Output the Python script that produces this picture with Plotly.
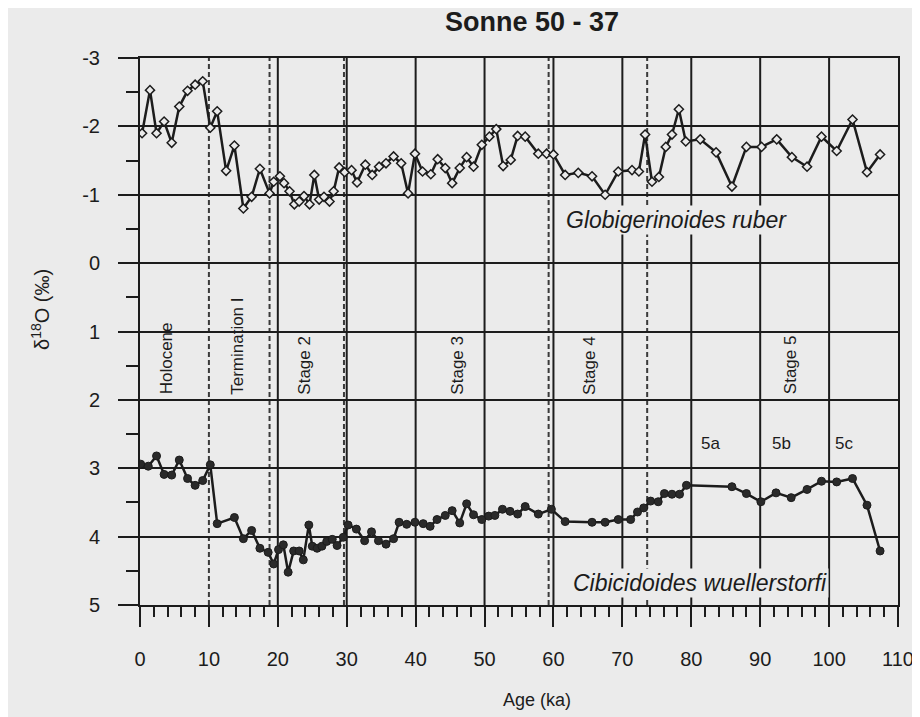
import plotly.graph_objects as go

# ---- data ----
ruber_age = [0.3, 1.45, 2.4, 3.5, 4.6, 5.7, 6.9, 8.0, 9.1, 10.2, 11.2, 12.5, 13.7, 15.0, 16.2,
             17.4, 18.8, 19.4, 20.3, 20.9, 21.7, 22.4, 23.1, 23.8, 24.6, 25.3, 26.0, 26.7, 27.5,
             28.1, 28.9, 29.7, 30.7, 31.5, 32.7, 33.7, 34.7, 35.7, 36.8, 37.9, 38.9, 39.9, 41.0,
             42.2, 43.2, 44.3, 45.3, 46.4, 47.4, 48.4, 49.6, 50.7, 51.7, 52.7, 53.8, 54.8, 55.9,
             57.8, 59.0, 60.0, 61.7, 63.6, 65.6, 67.5, 69.4, 71.4, 72.4, 73.3, 74.3, 75.3, 76.3,
             77.2, 78.2, 79.2, 81.3, 83.6, 85.9, 88.0, 90.2, 92.4, 94.6, 96.8, 98.9, 101.1, 103.4,
             105.5, 107.4]
ruber_d18o = [-1.90, -2.53, -1.90, -2.07, -1.76, -2.29, -2.52, -2.61, -2.66, -1.98, -2.22, -1.35,
              -1.72, -0.80, -0.97, -1.38, -1.02, -1.19, -1.27, -1.17, -1.05, -0.86, -0.90, -0.98,
              -0.86, -1.29, -0.93, -0.97, -0.90, -1.05, -1.40, -1.33, -1.36, -1.18, -1.44, -1.29,
              -1.41, -1.46, -1.56, -1.46, -1.02, -1.60, -1.34, -1.30, -1.52, -1.39, -1.17, -1.39,
              -1.55, -1.41, -1.73, -1.85, -1.96, -1.42, -1.51, -1.86, -1.85, -1.60, -1.60, -1.59,
              -1.29, -1.32, -1.27, -1.00, -1.34, -1.36, -1.34, -1.88, -1.19, -1.26, -1.70, -1.88,
              -2.25, -1.78, -1.81, -1.62, -1.12, -1.70, -1.70, -1.81, -1.55, -1.41, -1.85, -1.64,
              -2.10, -1.33, -1.59]

wuell_age = [0.1, 1.2, 2.4, 3.5, 4.6, 5.7, 6.9, 8.0, 9.1, 10.2, 11.2, 13.7, 15.0, 16.2, 17.4,
             18.6, 19.4, 20.1, 20.8, 21.5, 22.3, 23.1, 23.7, 24.5, 25.0, 25.7, 26.4, 27.1, 27.9,
             28.6, 29.5, 30.2, 31.4, 32.6, 33.6, 34.6, 35.7, 36.8, 37.6, 38.7, 39.9, 41.1, 42.1,
             43.1, 44.3, 45.3, 46.4, 47.4, 48.4, 49.6, 50.6, 51.5, 52.6, 53.7, 54.8, 55.9, 57.8,
             59.7, 61.7, 65.6, 67.5, 69.4, 71.2, 72.2, 73.1, 74.1, 75.2, 76.1, 77.2, 78.3, 79.3,
             85.9, 88.0, 90.1, 92.3, 94.5, 96.8, 98.9, 101.1, 103.4, 105.5, 107.4]
wuell_d18o = [2.94, 2.97, 2.82, 3.09, 3.10, 2.88, 3.15, 3.25, 3.18, 2.95, 3.81, 3.72, 4.03, 3.91,
              4.17, 4.23, 4.40, 4.19, 4.12, 4.52, 4.21, 4.21, 4.34, 3.83, 4.14, 4.17, 4.14, 4.07,
              4.04, 4.13, 4.01, 3.83, 3.89, 4.06, 3.93, 4.06, 4.11, 4.03, 3.79, 3.82, 3.79, 3.81,
              3.85, 3.75, 3.69, 3.62, 3.80, 3.52, 3.68, 3.75, 3.70, 3.69, 3.60, 3.63, 3.67, 3.56,
              3.67, 3.60, 3.78, 3.79, 3.79, 3.75, 3.75, 3.64, 3.58, 3.48, 3.49, 3.37, 3.38, 3.38,
              3.25, 3.27, 3.37, 3.49, 3.36, 3.43, 3.31, 3.19, 3.20, 3.15, 3.54, 4.21]

x_tickvals = [0, 10, 20, 30, 40, 50, 60, 70, 80, 90, 100, 110]
x_ticklabels = ["0", "10", "20", "30", "40", "50", "60", "70", "80", "90", "100", "110"]
y_tickvals = [-3, -2, -1, 0, 1, 2, 3, 4, 5]
y_ticklabels = ["-3", "-2", "-1", "0", "1", "2", "3", "4", "5"]

solid_grid_ages = [20, 30, 40, 50, 60, 70, 80, 90, 100]
boundary_ages = [10, 18.8, 29.6, 59.3, 73.6]

stage_labels = ["Holocene", "Termination I", "Stage 2", "Stage 3", "Stage 4", "Stage 5"]
stage_label_ages = [3.9, 14.2, 23.9, 46.1, 65.3, 94.5]
substage_labels = ["5a", "5b", "5c"]
substage_ages = [81.1, 91.4, 100.6]

INK = "#1c1c1c"
BG = "#ebebeb"
FONT = "Liberation Sans, Arial, Helvetica, sans-serif"

# page body adds an 8px offset; margins are chosen so the plot lands where the reference has it
W, H = 920, 717
L, T = 132, 50
PW, PH = 758, 547

def px_x(p):  # page pixel -> paper x
    return (p - 8 - L) / PW

def px_y(p):  # page pixel -> paper y
    return (T + PH - (p - 8)) / PH

fig = go.Figure()

fig.add_trace(go.Scatter(
    x=ruber_age, y=ruber_d18o, mode="lines+markers",
    line=dict(color=INK, width=2.5),
    marker=dict(symbol="diamond", size=7, color=BG, line=dict(color=INK, width=1.5)),
    showlegend=False, name="Globigerinoides ruber"))

fig.add_trace(go.Scatter(
    x=wuell_age, y=wuell_d18o, mode="lines+markers",
    line=dict(color=INK, width=2.5),
    marker=dict(symbol="circle", size=8, color="#2a2a2a", line=dict(color=INK, width=1)),
    showlegend=False, name="Cibicidoides wuellerstorfi"))

shapes = []
for a in solid_grid_ages:
    shapes.append(dict(type="line", xref="x", yref="paper", x0=a, x1=a, y0=0, y1=1,
                       line=dict(color=INK, width=2), layer="below"))
for a in boundary_ages:
    shapes.append(dict(type="line", xref="x", yref="paper", x0=a, x1=a, y0=0, y1=1,
                       line=dict(color="#3a3a3a", width=2, dash="5px,3px"), layer="below"))

annotations = []
for lab, a in zip(stage_labels, stage_label_ages):
    annotations.append(dict(x=a, y=1.95, xref="x", yref="y", text=lab, textangle=-90,
                            showarrow=False, xanchor="center", yanchor="bottom",
                            font=dict(family=FONT, size=17, color=INK)))
for lab, a in zip(substage_labels, substage_ages):
    annotations.append(dict(x=a, y=2.64, xref="x", yref="y", text=lab,
                            showarrow=False, xanchor="left", yanchor="middle",
                            font=dict(family=FONT, size=17, color=INK)))
annotations.append(dict(x=77.9, y=-0.63, xref="x", yref="y", text="<i>Globigerinoides ruber</i>",
                        showarrow=False, xanchor="center", yanchor="middle", bgcolor=BG,
                        font=dict(family=FONT, size=23, color=INK)))
annotations.append(dict(x=81.2, y=4.68, xref="x", yref="y", text="<i>Cibicidoides wuellerstorfi</i>",
                        showarrow=False, xanchor="center", yanchor="middle", bgcolor=BG,
                        font=dict(family=FONT, size=23, color=INK)))
# title
annotations.append(dict(x=px_x(532), y=px_y(22), xref="paper", yref="paper",
                        text="<b>Sonne 50 - 37</b>", showarrow=False,
                        xanchor="center", yanchor="middle",
                        font=dict(family=FONT, size=27, color=INK)))
# x axis title
annotations.append(dict(x=px_x(537), y=px_y(700), xref="paper", yref="paper",
                        text="Age (ka)", showarrow=False, xanchor="center", yanchor="middle",
                        font=dict(family=FONT, size=18, color=INK)))
# y axis title
annotations.append(dict(x=px_x(40), y=px_y(310), xref="paper", yref="paper",
                        text="δ<sup>18</sup>O (‰)", showarrow=False, textangle=-90,
                        xanchor="center", yanchor="middle",
                        font=dict(family=FONT, size=20, color=INK)))

fig.update_layout(
    width=W, height=H,
    margin=dict(l=L, r=W - L - PW, t=T, b=H - T - PH, autoexpand=False),
    paper_bgcolor=BG, plot_bgcolor=BG,
    shapes=shapes, annotations=annotations,
    font=dict(family=FONT, size=19, color=INK),
    xaxis=dict(range=[0, 110], tickvals=x_tickvals, ticktext=x_ticklabels,
               showgrid=False, zeroline=False, showline=True, mirror=True, automargin=False,
               linecolor=INK, linewidth=2, ticks="outside", ticklen=20, tickwidth=2,
               tickcolor=INK, ticklabelstandoff=15,
               minor=dict(dtick=2, ticks="outside", ticklen=10, tickwidth=2, tickcolor=INK,
                          showgrid=False),
               tickfont=dict(family=FONT, size=20, color=INK)),
    yaxis=dict(range=[5, -3], tickvals=y_tickvals, ticktext=y_ticklabels,
               showgrid=True, gridcolor=INK, gridwidth=2, zeroline=False, automargin=False,
               showline=True, mirror=True, linecolor=INK, linewidth=2,
               ticks="outside", ticklen=20, tickwidth=2, tickcolor=INK,
               ticklabelstandoff=14,
               minor=dict(dtick=0.5, ticks="outside", ticklen=12, tickwidth=2, tickcolor=INK,
                          showgrid=False),
               tickfont=dict(family=FONT, size=20, color=INK)),
)

fig.write_html("out.html")
